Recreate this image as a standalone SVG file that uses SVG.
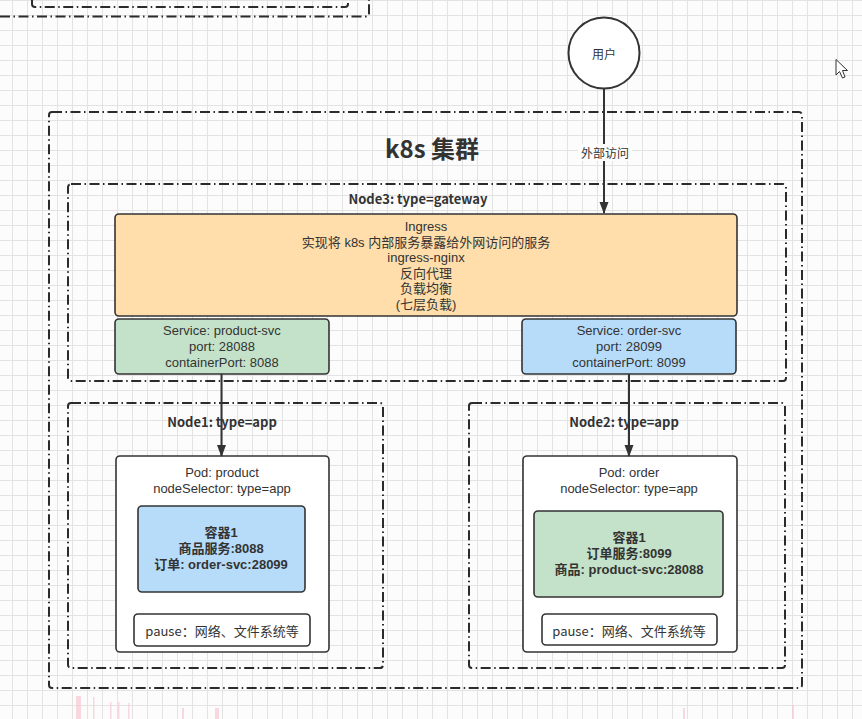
<svg xmlns="http://www.w3.org/2000/svg" width="862" height="719" viewBox="0 0 862 719">
  <defs>
    <pattern id="grid" x="12" y="0" width="15" height="15" patternUnits="userSpaceOnUse">
      <path d="M0.5,0 V15 M0,0.5 H15" fill="none" stroke="#e3e3e3" stroke-width="1"/>
    </pattern>
    <marker id="arr" markerUnits="userSpaceOnUse" markerWidth="12" markerHeight="10" refX="11" refY="5" orient="auto">
      <path d="M0,0.5 L12,5 L0,9.5 Z" fill="#333"/>
    </marker>
    <style>
      .dd { fill: none; stroke: #2b2b2b; stroke-width: 2; stroke-dasharray: 10 3.5 1.5 3.5; }
      .box { stroke: #333; stroke-width: 1.6; }
      .t { font-family: "Noto Sans CJK SC", "Noto Sans", sans-serif; font-size: 13px; fill: #333; text-anchor: middle; dominant-baseline: central; }
      .m { font-family: "Liberation Sans", "Noto Sans CJK SC", sans-serif; }
      .b { font-weight: bold; }
      .con { fill: none; stroke: #333; stroke-width: 2; }
    </style>
  </defs>

  <rect x="0" y="0" width="862" height="719" fill="#fcfcfc"/>
  <rect x="0" y="0" width="862" height="719" fill="url(#grid)"/>

  <!-- partial boxes at the top-left -->
  <path class="dd" d="M32,0 V4 Q32,7 35,7 H345 Q348,7 348,4 V0"/>
  <path class="dd" d="M0,16.5 H366 Q369,16.5 369,13.5 V0"/>

  <!-- faint pink artifacts at the bottom -->
  <g fill="#f8c8d4" opacity="0.7">
    <rect x="76" y="696" width="5" height="23"/>
    <rect x="93" y="697" width="1.5" height="22"/>
    <rect x="110" y="702" width="1.5" height="17"/>
    <rect x="118" y="702" width="1.5" height="17"/>
    <rect x="128" y="703" width="1.5" height="16"/>
    <rect x="182" y="708" width="2" height="11"/>
    <rect x="215" y="708" width="4" height="11"/>
    <rect x="683" y="708" width="2" height="11"/>
    <rect x="792" y="705" width="2" height="14"/>
  </g>

  <g id="cluster">
    <rect class="dd" x="49" y="112" width="753" height="576" rx="3"/>
    <text class="t b" x="432" y="147" style="font-size:24px">k8s 集群</text>
  </g>

  <g id="user">
    <circle cx="604" cy="53" r="35.5" fill="#fff" stroke="#333" stroke-width="2"/>
    <text class="t" x="604" y="53" style="font-size:12px">用户</text>
  </g>

  <g id="node3">
    <rect class="dd" x="68" y="184" width="718" height="197" rx="3"/>
    <text class="t b" x="418" y="198">Node3: type=gateway</text>
  </g>

  <g id="ingress">
    <rect class="box" x="115" y="214" width="622" height="102" rx="4" fill="#ffdeab"/>
    <text class="t m" x="426" y="226">Ingress<tspan x="426" dy="15.6">实现将 k8s 内部服务暴露给外网访问的服务</tspan><tspan x="426" dy="15.6">ingress-nginx</tspan><tspan x="426" dy="15.6">反向代理</tspan><tspan x="426" dy="15.6">负载均衡</tspan><tspan x="426" dy="15.6">(七层负载)</tspan></text>
  </g>

  <g id="product-svc">
    <rect class="box" x="115" y="319" width="214" height="55" rx="4" fill="#c4e2c9"/>
    <text class="t m" x="222" y="330">Service: product-svc<tspan x="222" dy="16">port: 28088</tspan><tspan x="222" dy="16">containerPort: 8088</tspan></text>
  </g>

  <g id="order-svc">
    <rect class="box" x="522" y="319" width="214" height="55" rx="4" fill="#b7dcf9"/>
    <text class="t m" x="629" y="330">Service: order-svc<tspan x="629" dy="16">port: 28099</tspan><tspan x="629" dy="16">containerPort: 8099</tspan></text>
  </g>

  <g id="node1">
    <rect class="dd" x="68" y="403" width="315" height="265" rx="3"/>
    <text class="t b" x="222" y="421">Node1: type=app</text>
  </g>

  <g id="pod-product">
    <rect class="box" x="116" y="456" width="213" height="196" rx="4" fill="#fff"/>
    <text class="t m" x="222" y="472">Pod: product<tspan x="222" dy="16">nodeSelector: type=app</tspan></text>
  </g>

  <g id="container-product">
    <rect class="box" x="138" y="506" width="167" height="86" rx="4" fill="#b7dcf9"/>
    <text class="t m b" x="221" y="532">容器1<tspan x="221" dy="16">商品服务:8088</tspan><tspan x="221" dy="16">订单: order-svc:28099</tspan></text>
  </g>

  <g id="pause-product">
    <rect class="box" x="134" y="614" width="176" height="32" rx="4" fill="#fff"/>
    <text class="t" x="222" y="630">pause：网络、文件系统等</text>
  </g>

  <g id="node2">
    <rect class="dd" x="469" y="403" width="316" height="265" rx="3"/>
    <text class="t b" x="624" y="421">Node2: type=app</text>
  </g>

  <g id="pod-order">
    <rect class="box" x="523" y="456" width="214" height="196" rx="4" fill="#fff"/>
    <text class="t m" x="629" y="472">Pod: order<tspan x="629" dy="16">nodeSelector: type=app</tspan></text>
  </g>

  <g id="container-order">
    <rect class="box" x="534" y="511" width="189" height="86" rx="4" fill="#c4e2c9"/>
    <text class="t m b" x="629" y="537">容器1<tspan x="629" dy="16">订单服务:8099</tspan><tspan x="629" dy="16">商品: product-svc:28088</tspan></text>
  </g>

  <g id="pause-order">
    <rect class="box" x="542" y="614" width="175" height="31" rx="4" fill="#fff"/>
    <text class="t" x="629" y="630">pause：网络、文件系统等</text>
  </g>

  <g id="connectors">
    <path class="con" d="M604,89 V213" marker-end="url(#arr)"/>
    <rect x="578" y="144" width="54" height="17" fill="#fcfcfc"/>
    <text class="t" x="605" y="152" style="font-size:12px">外部访问</text>
    <path class="con" d="M221.5,374 V456" marker-end="url(#arr)"/>
    <path class="con" d="M629,374 V456" marker-end="url(#arr)"/>
  </g>

  <!-- mouse cursor -->
  <path d="M836,59.5 V75 L839.5,71.5 L842.5,78 L845,77 L842.5,70.5 L847.5,70.5 Z" fill="#fff" stroke="#333" stroke-width="1"/>
</svg>
